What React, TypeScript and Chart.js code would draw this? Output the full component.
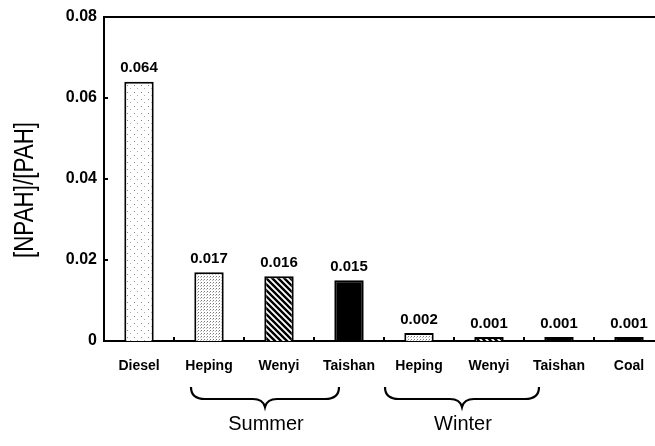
import React, { useEffect, useRef } from "react";
import { Chart, registerables } from "chart.js";

Chart.register(...registerables);

const categories = ["Diesel", "Heping", "Wenyi", "Taishan", "Heping", "Wenyi", "Taishan", "Coal"];
const ratios = [0.064, 0.017, 0.016, 0.015, 0.002, 0.001, 0.001, 0.001];
const valueLabels = ["0.064", "0.017", "0.016", "0.015", "0.002", "0.001", "0.001", "0.001"];
const fillKinds = ["sparse", "dense", "hatch", "solid", "dense", "hatch", "solid", "solid"];
const yTicks = [0, 0.02, 0.04, 0.06, 0.08];
const groups = [
  { name: "Summer", from: 1, to: 3 },
  { name: "Winter", from: 4, to: 6 },
];
const yTitle = "[NPAH]/[PAH]";

const FONT = "'Liberation Sans', Arial, sans-serif";
// brace pixel offsets relative to the first/last category centre of each group
const braceOffsets = [
  { left: -18, right: -10 },
  { left: -34, right: -20 },
];

function makePattern(kind: string): CanvasPattern | string {
  if (kind === "solid") return "#000";
  const c = document.createElement("canvas");
  const ctx = c.getContext("2d")!;
  if (kind === "hatch") {
    c.width = 6;
    c.height = 6;
    ctx.fillStyle = "#fff";
    ctx.fillRect(0, 0, 6, 6);
    ctx.strokeStyle = "#000";
    ctx.lineWidth = 2.4;
    ctx.beginPath();
    for (let k = -6; k <= 12; k += 6) {
      ctx.moveTo(k - 1, -1);
      ctx.lineTo(k + 7, 7);
    }
    ctx.stroke();
  } else if (kind === "dense") {
    c.width = 3;
    c.height = 3;
    ctx.fillStyle = "#fff";
    ctx.fillRect(0, 0, 3, 3);
    ctx.fillStyle = "#777";
    ctx.fillRect(0, 0, 1, 1);
    ctx.fillStyle = "#bbb";
    ctx.fillRect(2, 1, 1, 1);
  } else {
    c.width = 7;
    c.height = 7;
    ctx.fillStyle = "#fff";
    ctx.fillRect(0, 0, 7, 7);
    ctx.fillStyle = "#888";
    ctx.fillRect(1, 1, 1, 1);
    ctx.fillStyle = "#aaa";
    ctx.fillRect(4, 4, 1, 1);
  }
  return ctx.createPattern(c, "repeat")!;
}

const decorPlugin = {
  id: "decor",
  afterDraw(chart: any) {
    const { ctx, chartArea } = chart;
    const xs = chart.scales.x;
    const ys = chart.scales.y;
    ctx.save();
    ctx.strokeStyle = "#000";
    ctx.lineWidth = 2;
    // top border
    ctx.beginPath();
    ctx.moveTo(chartArea.left - 1, chartArea.top);
    ctx.lineTo(chartArea.right + 5, chartArea.top);
    ctx.stroke();
    // y tick marks inward
    yTicks.forEach((v) => {
      if (v === 0) return;
      const y = ys.getPixelForValue(v);
      ctx.beginPath();
      ctx.moveTo(chartArea.left, y);
      ctx.lineTo(chartArea.left + 4, y);
      ctx.stroke();
    });
    // x tick marks at category boundaries
    for (let i = 1; i < categories.length; i++) {
      const x = (xs.getPixelForValue(i - 1) + xs.getPixelForValue(i)) / 2;
      ctx.beginPath();
      ctx.moveTo(x, chartArea.bottom);
      ctx.lineTo(x, chartArea.bottom - 4);
      ctx.stroke();
    }
    // value labels
    const meta = chart.getDatasetMeta(0);
    ctx.fillStyle = "#000";
    ctx.font = `bold 15px ${FONT}`;
    ctx.textAlign = "center";
    ctx.textBaseline = "bottom";
    meta.data.forEach((bar: any, i: number) => {
      ctx.fillText(valueLabels[i], bar.x, bar.y - 6);
    });
    // y title (condensed)
    ctx.save();
    ctx.translate(25, 190);
    ctx.rotate(-Math.PI / 2);
    ctx.scale(0.8, 1);
    ctx.font = `28px ${FONT}`;
    ctx.textAlign = "center";
    ctx.textBaseline = "middle";
    ctx.fillText(yTitle, 0, 0);
    ctx.restore();
    // braces and group names
    groups.forEach((g, gi) => {
      const x0 = xs.getPixelForValue(g.from) + braceOffsets[gi].left;
      const x1 = xs.getPixelForValue(g.to) + braceOffsets[gi].right;
      const xm = (x0 + x1) / 2;
      const yTop = 387;
      const yMid = 399;
      const yTip = 407;
      ctx.lineWidth = 2.2;
      ctx.beginPath();
      ctx.moveTo(x0, yTop);
      ctx.quadraticCurveTo(x0, yMid, x0 + 14, yMid);
      ctx.lineTo(xm - 12, yMid);
      ctx.quadraticCurveTo(xm - 2, yMid, xm, yTip);
      ctx.quadraticCurveTo(xm + 2, yMid, xm + 12, yMid);
      ctx.lineTo(x1 - 14, yMid);
      ctx.quadraticCurveTo(x1, yMid, x1, yTop);
      ctx.stroke();
      ctx.font = `20px ${FONT}`;
      ctx.textAlign = "center";
      ctx.textBaseline = "middle";
      ctx.fillText(g.name, xm + 1, 424);
    });
    ctx.restore();
  },
};

export default function App() {
  const ref = useRef<HTMLCanvasElement>(null);
  useEffect(() => {
    const canvas = ref.current!;
    const chart = new Chart(canvas, {
      type: "bar",
      data: {
        labels: categories,
        datasets: [
          {
            data: ratios,
            backgroundColor: fillKinds.map(makePattern) as any,
            borderColor: "#000",
            borderWidth: 2,
            barPercentage: 0.42,
            categoryPercentage: 1,
          },
        ],
      },
      options: {
        animation: false,
        responsive: false,
        maintainAspectRatio: false,
        layout: { padding: { top: 17, right: 1, left: 0, bottom: 0 } },
        plugins: { legend: { display: false }, tooltip: { enabled: false } },
        scales: {
          x: {
            type: "category",
            offset: true,
            grid: { display: false, drawTicks: false },
            border: { display: true, color: "#000", width: 2 },
            ticks: {
              color: "#000",
              font: { family: FONT, size: 14, weight: "bold" },
              padding: 17,
              maxRotation: 0,
              autoSkip: false,
            },
            afterFit(scale: any) {
              scale.height = 105;
            },
          },
          y: {
            min: 0,
            max: 0.08,
            grid: { display: false, drawTicks: false },
            border: { display: true, color: "#000", width: 2 },
            afterBuildTicks(scale: any) {
              scale.ticks = yTicks.map((v) => ({ value: v }));
            },
            ticks: {
              color: "#000",
              font: { family: FONT, size: 16, weight: "bold" },
              padding: 7,
              callback: (v: any) => (Number(v) === 0 ? "0" : Number(v).toFixed(2)),
            },
            afterFit(scale: any) {
              scale.width = 104;
            },
          },
        },
      },
      plugins: [decorPlugin],
    });
    return () => chart.destroy();
  }, []);
  return (
    <div style={{ position: "fixed", left: 0, top: 0, width: 655, height: 446, overflow: "hidden", background: "#fff" }}>
      <canvas ref={ref} width={665} height={446} style={{ display: "block", width: 665, height: 446 }} />
    </div>
  );
}
